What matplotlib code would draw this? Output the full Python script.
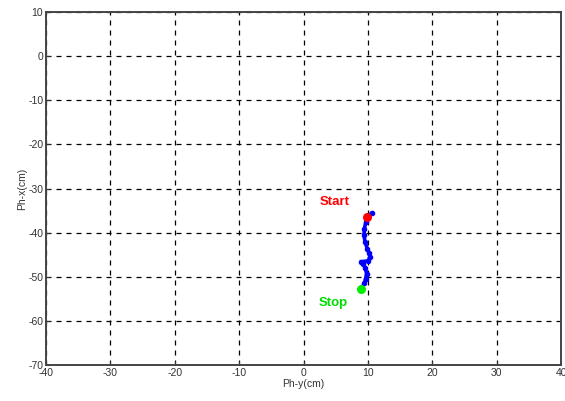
import matplotlib.pyplot as plt

# trajectory (Ph-y, Ph-x) in cm
ph_y = [10.6, 10.05, 9.7, 9.45, 9.4, 9.55, 9.9, 10.2, 10.3, 10.05, 8.9, 9.3, 9.6, 9.8, 9.65, 9.45, 9.0]
ph_x = [-35.5, -36.4, -37.5, -39.1, -40.6, -42.1, -43.6, -44.7, -45.5, -46.4, -46.6, -47.1, -48.1, -49.3, -50.4, -51.5, -52.7]
start_pt = (9.8, -36.5)
stop_pt = (9.0, -52.8)
xticks = list(range(-40, 41, 10))
yticks = list(range(-70, 11, 10))

plt.rcParams['font.family'] = ['Liberation Sans', 'DejaVu Sans']
plt.rcParams['axes.unicode_minus'] = False

fig = plt.figure(figsize=(5.65, 4.01), dpi=100)
ax = fig.add_axes([0.0814, 0.0898, 0.9116, 0.8802])

ax.plot(ph_y, ph_x, color='#0000ff', lw=2.6, marker='o', ms=3, solid_capstyle='round')
ax.plot(*start_pt, 'o', color='red', ms=5.5)
ax.plot(*stop_pt, 'o', color='#00ee00', ms=5.5)
ax.text(4.9, -33.1, 'Start', color='red', fontsize=9.5, fontweight='bold', ha='center', va='center')
ax.text(4.6, -56.0, 'Stop', color='#00dd00', fontsize=9.5, fontweight='bold', ha='center', va='center')

ax.set_xlim(-40, 40)
ax.set_ylim(-70, 10)
ax.set_xticks(xticks)
ax.set_yticks(yticks)
ax.grid(True, color='black', linestyle=(0, (4, 4)), linewidth=0.9)
ax.tick_params(direction='in', length=3, labelsize=7.5, labelcolor='#333333', color='#333333', pad=2)
for s in ax.spines.values():
    s.set_color('#444444')
    s.set_linewidth(1.4)

ax.set_xlabel('Ph-y(cm)', fontsize=7.5, color='#333333', labelpad=1)
ax.set_ylabel('Ph-x(cm)', fontsize=7.5, color='#333333', labelpad=1)

fig.savefig('out.png', dpi=100)
